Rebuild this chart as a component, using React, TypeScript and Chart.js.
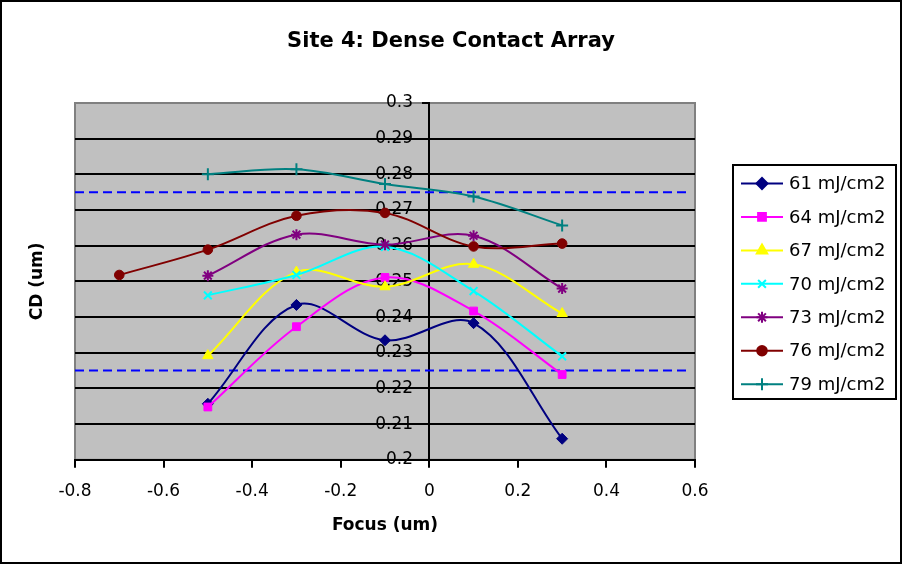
import React, { useEffect, useRef } from 'react';
import { Chart, registerables } from 'chart.js';
import { drawPoint } from 'chart.js/helpers';

Chart.register(...registerables);

// Focus settings (um)
const focus = [-0.7, -0.5, -0.3, -0.1, 0.1, 0.3];

// Measured CD (um) per exposure dose
const cd61 = [null, 0.2157, 0.2434, 0.2335, 0.2383, 0.2059];
const cd64 = [null, 0.2148, 0.2373, 0.2511, 0.2417, 0.2239];
const cd67 = [null, 0.2292, 0.2526, 0.2485, 0.2548, 0.241];
const cd70 = [null, 0.2461, 0.2518, 0.2597, 0.2473, 0.229];
const cd73 = [null, 0.2516, 0.2631, 0.2603, 0.2628, 0.248];
const cd76 = [0.2518, 0.2589, 0.2684, 0.2692, 0.2598, 0.2606];
const cd79 = [null, 0.28, 0.2814, 0.2773, 0.2738, 0.2657];

const seriesLabels = ['61 mJ/cm2', '64 mJ/cm2', '67 mJ/cm2', '70 mJ/cm2', '73 mJ/cm2', '76 mJ/cm2', '79 mJ/cm2'];
const seriesValues = [cd61, cd64, cd67, cd70, cd73, cd76, cd79];
const seriesColors = ['#000080', '#FF00FF', '#FFFF00', '#00FFFF', '#800080', '#800000', '#008080'];
const seriesMarkers = ['rectRot', 'rect', 'triangle', 'crossRot', 'star', 'circle', 'cross'];
const markerRadius = [5.5, 5.5, 6, 5.5, 5.5, 4.8, 6];

// Spec limits
const specX = [-0.8, 0.58];
const upperSpec = 0.275;
const lowerSpec = 0.225;

const FONT = "'DejaVu Sans', 'Liberation Sans', Arial, sans-serif";

const isFilled = (m: string) => m === 'rectRot' || m === 'rect' || m === 'triangle' || m === 'circle';

const plotFrame = {
  id: 'plotFrame',
  beforeDraw(chart: any) {
    const { ctx, chartArea: a, width, height } = chart;
    ctx.save();
    ctx.fillStyle = '#FFFFFF';
    ctx.fillRect(0, 0, width, height);
    ctx.fillStyle = '#C0C0C0';
    ctx.fillRect(a.left, a.top, a.right - a.left, a.bottom - a.top);
    ctx.strokeStyle = '#808080';
    ctx.lineWidth = 2;
    ctx.strokeRect(a.left, a.top, a.right - a.left, a.bottom - a.top);
    ctx.restore();
  },
};

const legendBox = {
  id: 'legendBox',
  afterDraw(chart: any) {
    const { ctx, width, height } = chart;
    ctx.save();
    const bx = 733, by = 165, bw = 163, bh = 234;
    ctx.strokeStyle = '#000000';
    ctx.lineWidth = 2;
    ctx.strokeRect(bx, by, bw, bh);
    ctx.font = `18px ${FONT}`;
    ctx.textBaseline = 'middle';
    ctx.textAlign = 'left';
    seriesLabels.forEach((label, i) => {
      const y = 183.5 + i * 33.45;
      const color = seriesColors[i];
      ctx.strokeStyle = color;
      ctx.lineWidth = 2;
      ctx.beginPath();
      ctx.moveTo(741, y);
      ctx.lineTo(783, y);
      ctx.stroke();
      ctx.fillStyle = color;
      drawPoint(ctx, {
        pointStyle: seriesMarkers[i],
        radius: markerRadius[i],
        rotation: 0,
        borderWidth: 2,
      } as any, 762, y);
      if (isFilled(seriesMarkers[i])) ctx.fill();
      ctx.fillStyle = '#000000';
      ctx.fillText(label, 789, y + 1);
    });
    // outer frame of the whole chart
    ctx.strokeStyle = '#000000';
    ctx.lineWidth = 2;
    ctx.strokeRect(1, 1, width - 2, height - 2);
    ctx.restore();
  },
};

export default function App() {
  const canvasRef = useRef<HTMLCanvasElement | null>(null);

  useEffect(() => {
    document.body.style.margin = '0';
    const canvas = canvasRef.current;
    if (!canvas) return;

    const series = seriesLabels.map((label, i) => ({
      label,
      data: focus.map((f, j) => ({ x: f, y: seriesValues[i][j] })),
      borderColor: seriesColors[i],
      backgroundColor: seriesColors[i],
      borderWidth: 2,
      pointStyle: seriesMarkers[i],
      pointRadius: markerRadius[i],
      pointBorderWidth: isFilled(seriesMarkers[i]) ? 1 : 2,
      pointBackgroundColor: seriesColors[i],
      pointBorderColor: seriesColors[i],
      tension: 0.35,
      spanGaps: false,
      order: 7 - i,
    }));

    const specLine = (value: number, name: string) => ({
      label: name,
      data: specX.map((x) => ({ x, y: value })),
      borderColor: '#0000FF',
      borderWidth: 2,
      borderDash: [9, 5],
      pointRadius: 0,
      tension: 0,
      order: 20,
    });

    const chart = new Chart(canvas, {
      type: 'line',
      data: {
        datasets: [...series, specLine(upperSpec, 'USL'), specLine(lowerSpec, 'LSL')] as any,
      },
      plugins: [plotFrame, legendBox],
      options: {
        animation: false,
        responsive: false,
        devicePixelRatio: 1,
        layout: { padding: 0 },
        plugins: {
          legend: { display: false },
          tooltip: { enabled: false },
          title: {
            display: true,
            text: 'Site 4: Dense Contact Array',
            color: '#000000',
            font: { family: FONT, size: 21, weight: 'bold' },
            padding: { top: 29.4, bottom: 48.4 },
          },
        },
        scales: {
          x: {
            type: 'linear',
            position: 'bottom',
            min: -0.8,
            max: 0.6,
            ticks: {
              stepSize: 0.2,
              color: '#000000',
              font: { family: FONT, size: 17 },
              padding: 14,
              callback: (v: any) => String(Number(Number(v).toFixed(1))),
            },
            grid: {
              drawOnChartArea: false,
              drawTicks: true,
              tickLength: 8,
              color: '#000000',
              lineWidth: 2,
            },
            border: { display: true, color: '#000000', width: 2 },
            title: {
              display: true,
              text: 'Focus (um)',
              color: '#000000',
              font: { family: FONT, size: 17, weight: 'bold' },
              padding: { top: -1, bottom: 28.4 },
            },
          },
          y: {
            type: 'linear',
            position: { x: 0 } as any,
            min: 0.2,
            max: 0.3,
            ticks: {
              stepSize: 0.01,
              color: '#000000',
              font: { family: FONT, size: 17 },
              padding: 10,
              // trailing spaces keep the labels clear of the central axis line
              callback: (v: any) => String(Number(Number(v).toFixed(2))) + '   ',
            },
            grid: {
              color: (c: any) => (c.tick && c.tick.value >= 0.2999 ? '#808080' : '#000000'),
              tickColor: '#000000',
              lineWidth: 2,
              tickLength: 6,
            },
            border: { display: true, color: '#000000', width: 2 },
          },
          yTitle: {
            type: 'linear',
            axis: 'y',
            position: 'left',
            display: true,
            ticks: { display: false },
            grid: { display: false, drawTicks: false },
            border: { display: false },
            title: {
              display: true,
              text: 'CD (um)',
              color: '#000000',
              font: { family: FONT, size: 17, weight: 'bold' },
              padding: { top: 27, bottom: 27.6 },
            },
          },
          legendSpace: {
            type: 'linear',
            axis: 'y',
            position: 'right',
            display: true,
            ticks: { display: false },
            grid: { display: false, drawTicks: false },
            border: { display: false },
            afterFit: (s: any) => {
              s.width = 207;
            },
          },
        } as any,
      },
    });

    return () => chart.destroy();
  }, []);

  return (
    <div style={{ width: 902, height: 564 }}>
      <canvas ref={canvasRef} width={902} height={564} style={{ display: 'block' }} />
    </div>
  );
}
